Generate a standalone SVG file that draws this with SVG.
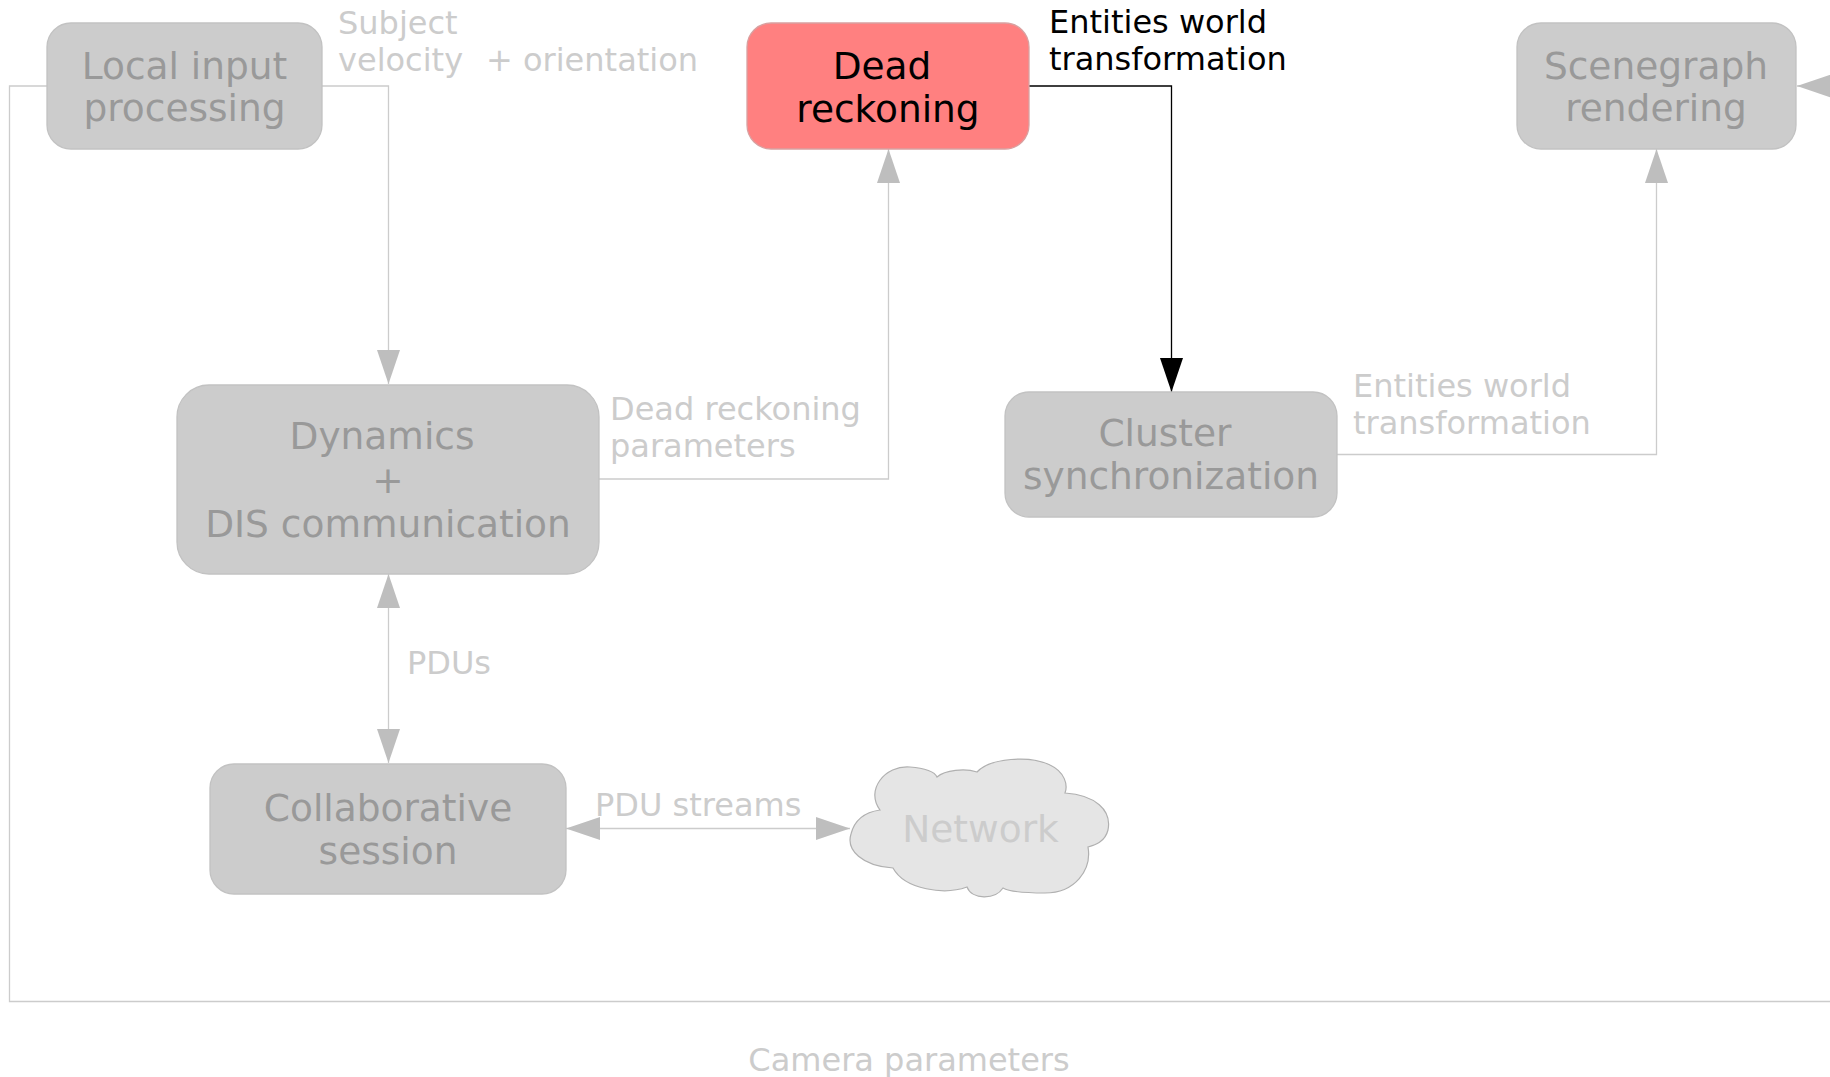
<svg xmlns="http://www.w3.org/2000/svg" width="1830" height="1077" viewBox="0 0 1830 1077">
  <defs>
    <style>
      .node rect { fill: #cccccc; stroke: #c2c2c2; stroke-width: 1.3; }
      .node text { font-family: "DejaVu Sans", "Liberation Sans", sans-serif; font-size: 37.5px; fill: #999999; text-anchor: middle; }
      #dead-reckoning rect { fill: #ff8080; stroke: #d9a0a0; }
      #dead-reckoning text { fill: #000000; }
      #network path { fill: #e5e5e5; stroke: #b0b0b0; stroke-width: 1.2; }
      #network text { fill: #cccccc; }
      .edge { fill: none; stroke: #cccccc; stroke-width: 1.3; }
      .edge.active { stroke: #000000; }
      .label { font-family: "DejaVu Sans", "Liberation Sans", sans-serif; font-size: 32px; fill: #cccccc; }
      .label.active { fill: #000000; }
    </style>
    <marker id="arrow" markerUnits="userSpaceOnUse" markerWidth="34" markerHeight="23" refX="34" refY="11.5" orient="auto-start-reverse" viewBox="0 0 34 23">
      <path d="M0,0 L34,11.5 L0,23 z" fill="#bebebe"/>
    </marker>
    <marker id="arrow-black" markerUnits="userSpaceOnUse" markerWidth="34" markerHeight="23" refX="34" refY="11.5" orient="auto" viewBox="0 0 34 23">
      <path d="M0,0 L34,11.5 L0,23 z" fill="#000000"/>
    </marker>
  </defs>

  <rect width="1830" height="1077" fill="#ffffff"/>

  <!-- connectors -->
  <g id="connectors">
    <path class="edge" d="M322,86 H388.5 V384" marker-end="url(#arrow)"/>
    <path class="edge" d="M47,86 H9.5 V1001.5 H1850 V86 H1797" marker-end="url(#arrow)"/>
    <path class="edge" d="M599,479 H888.5 V149" marker-end="url(#arrow)"/>
    <path class="edge active" d="M1029,86 H1171.5 V392" marker-end="url(#arrow-black)"/>
    <path class="edge" d="M1337,454.5 H1656.5 V149" marker-end="url(#arrow)"/>
    <path class="edge" d="M388.5,574 V763" marker-start="url(#arrow)" marker-end="url(#arrow)"/>
    <path class="edge" d="M566,828.5 H850" marker-start="url(#arrow)" marker-end="url(#arrow)"/>

    <text class="label" x="338" y="34">Subject</text>
    <text class="label" x="338" y="71">velocity</text>
    <text class="label" x="486" y="71">+ orientation</text>
    <text class="label active" x="1049" y="33">Entities world</text>
    <text class="label active" x="1049" y="70">transformation</text>
    <text class="label" x="610" y="420">Dead reckoning</text>
    <text class="label" x="610" y="457">parameters</text>
    <text class="label" x="1353" y="397">Entities world</text>
    <text class="label" x="1353" y="434">transformation</text>
    <text class="label" x="407" y="674">PDUs</text>
    <text class="label" x="595" y="816">PDU streams</text>
    <text class="label" x="909" y="1071" text-anchor="middle">Camera parameters</text>
  </g>

  <!-- nodes -->
  <g id="local-input" class="node">
    <rect x="47" y="23" width="275" height="126" rx="24"/>
    <text x="184.5" y="78.5">Local input</text>
    <text x="184.5" y="121">processing</text>
  </g>

  <g id="dead-reckoning" class="node">
    <rect x="747" y="23" width="282" height="126" rx="24"/>
    <text x="882" y="79">Dead</text>
    <text x="888" y="121.5">reckoning</text>
  </g>

  <g id="scenegraph" class="node">
    <rect x="1517" y="23" width="279" height="126" rx="24"/>
    <text x="1656" y="78.5">Scenegraph</text>
    <text x="1656" y="121">rendering</text>
  </g>

  <g id="dynamics" class="node">
    <rect x="177" y="385" width="422" height="189" rx="32"/>
    <text x="382" y="449">Dynamics</text>
    <text x="388" y="493">+</text>
    <text x="388" y="537">DIS communication</text>
  </g>

  <g id="cluster-sync" class="node">
    <rect x="1005" y="392" width="332" height="125" rx="24"/>
    <text x="1165" y="446">Cluster</text>
    <text x="1171" y="489">synchronization</text>
  </g>

  <g id="collab-session" class="node">
    <rect x="210" y="764" width="356" height="130" rx="24"/>
    <text x="388" y="820.5">Collaborative</text>
    <text x="388" y="864">session</text>
  </g>

  <g id="network" class="node">
    <path d="M893,868 C862,866 846,850 851,834 C855,818 866,812 880,810
             C865,790 885,765 910,767 C925,768 935,772 937,777
             C945,770 965,768 977,772
             C990,758 1030,755 1050,765 C1065,772 1068,785 1065,793
             C1095,795 1112,810 1108,830 C1105,842 1095,845 1088,847
             C1092,870 1075,893 1045,893 C1025,893 1010,892 1003,888
             C995,900 972,900 967,887
             C945,895 905,890 893,868 Z"/>
    <text x="980.5" y="842">Network</text>
  </g>
</svg>
